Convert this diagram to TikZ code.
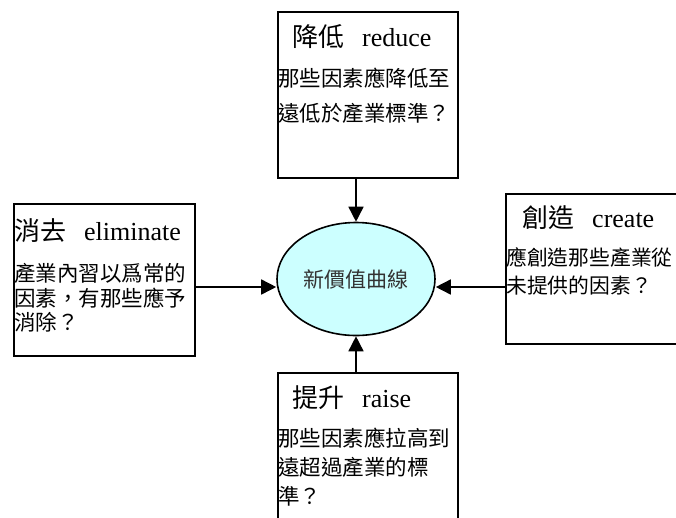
\documentclass[tikz,border=0pt]{standalone}
\usepackage{fontspec}
\setmainfont{Liberation Serif}
\newfontfamily\cjk{Noto Sans CJK TC}
\usetikzlibrary{shapes.geometric,arrows.meta}
\definecolor{ellfill}{HTML}{CCFFFF}
\newcommand{\tgap}{\hspace{18pt}}
\tikzset{
  box/.style={draw=black,line width=1.6pt,inner sep=0pt,anchor=north west},
  ttl/.style={anchor=west,inner sep=0pt,font=\fontsize{26}{26}\selectfont},
  bodyline/.style={anchor=west,inner sep=0pt,font=\cjk\fontsize{21.5}{21.5}\selectfont},
  arr/.style={line width=1.6pt,-{Triangle[length=15pt,width=15pt]}},
}
\begin{document}
\begin{tikzpicture}[x=1pt,y=-1pt]
\useasboundingbox (0,0) rectangle (676,517);
\clip (0,0) rectangle (676,517);
% boxes
\node[box,minimum width=180pt,minimum height=166pt] (top) at (277,11) {};
\node[box,minimum width=181pt,minimum height=152pt] (left) at (13,203) {};
\node[box,minimum width=200pt,minimum height=150pt] (right) at (505,193) {};
\node[box,minimum width=180pt,minimum height=170pt] (bottom) at (277,372) {};
% ellipse
\node[ellipse,draw=black,line width=1.6pt,fill=ellfill,minimum width=158pt,minimum height=113pt,inner sep=0pt,
      font=\cjk\fontsize{21}{21}\selectfont,text=black!80] (ell) at (356,279) {新價值曲線};
% top box text
\node[ttl] (t0) at (292,37) {{\cjk 降低}\tgap reduce};
\node[bodyline] (t1) at (278,78) {那些因素應降低至};
\node[bodyline] (t2) at (278,113) {遠低於產業標準？};
% left box text
\node[ttl] (l0) at (14,231) {{\cjk 消去}\tgap eliminate};
\node[bodyline] (l1) at (14,273) {產業內習以爲常的};
\node[bodyline] (l2) at (14,298) {因素，有那些應予};
\node[bodyline] (l3) at (14,322) {消除？};
% right box text
\node[ttl] (r0) at (522,218) {{\cjk 創造}\tgap create};
\node[bodyline,font=\cjk\fontsize{20.8}{20.8}\selectfont] (r1) at (506,257) {應創造那些產業從};
\node[bodyline,font=\cjk\fontsize{20.8}{20.8}\selectfont] (r2) at (506,286) {未提供的因素？};
% bottom box text
\node[ttl] (b0) at (292,398) {{\cjk 提升}\tgap raise};
\node[bodyline] (b1) at (278,438) {那些因素應拉高到};
\node[bodyline] (b2) at (278,467) {遠超過產業的標};
\node[bodyline] (b3) at (278,496) {準？};
% arrows
\coordinate (ay) at (0,287);
\draw[arr] (top.south -| ell.north) -- (ell.north);
\draw[arr] (bottom.north -| ell.south) -- (ell.south);
\draw[arr] (left.east |- ay) -- (ell.west |- ay);
\draw[arr] (right.west |- ay) -- (ell.east |- ay);
\end{tikzpicture}
\end{document}
